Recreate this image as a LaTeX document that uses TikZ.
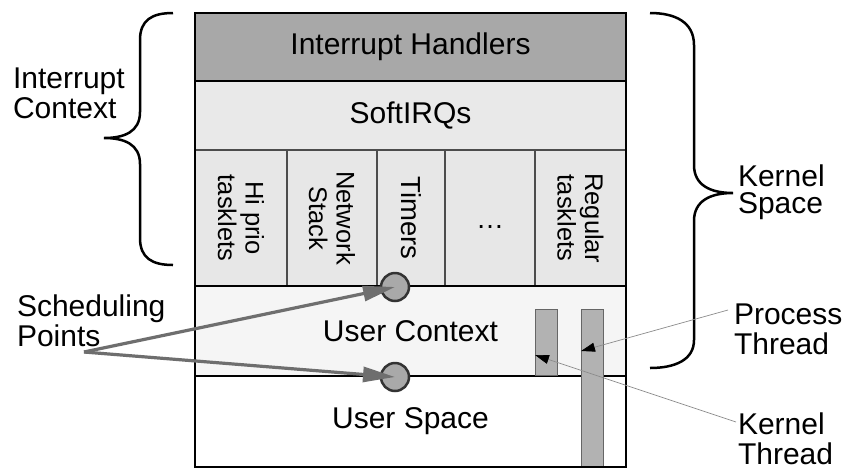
\documentclass[tikz,border=0pt]{standalone}
\usepackage{fontspec}
\setmainfont{Liberation Sans}
\usetikzlibrary{arrows.meta,calc}
\definecolor{ihfill}{HTML}{A8A8A8}
\definecolor{sqfill}{HTML}{E9E9E9}
\definecolor{colfill}{HTML}{E7E7E7}
\definecolor{ucfill}{HTML}{F5F5F5}
\definecolor{barfill}{HTML}{B2B2B2}
\definecolor{dotfill}{HTML}{A9A9A9}
\definecolor{arrgray}{HTML}{6E6E6E}
\begin{document}
\begin{tikzpicture}[x=1pt,y=-1pt,
  every node/.style={inner sep=0pt, outer sep=0pt},
  big/.style={font=\fontsize{30}{30}\selectfont},
  rowbox/.style={rectangle, anchor=north west, minimum width=431pt, big},
  colbox/.style={rectangle, anchor=north west, minimum height=136pt, fill=colfill, draw=black!70, line width=1.2pt},
  coltext/.style={rotate=-90, align=center, font=\fontsize{25.5}{27.5}\selectfont},
  heavy/.style={line width=2.8pt, black},
  bar/.style={rectangle, anchor=north west, minimum width=22pt, fill=barfill, draw=black!60, line width=1pt},
  schedpt/.style={circle, minimum size=28pt, fill=dotfill, draw=black!80, line width=2.5pt},
  lbl/.style={big, align=left, anchor=west},
  brace/.style={line width=2.5pt, black},
  schedarrow/.style={draw=arrgray, line width=3.2pt, -{Triangle[length=32pt,width=15pt]}},
  thinarrow/.style={draw=black!45, line width=0.7pt, -{Triangle[length=14pt,width=9pt,color=black]}}
]
\fill[white] (0,0) rectangle (844,475);
\useasboundingbox (0,0) rectangle (844,475);

% rows
\node[rowbox, fill=ihfill, minimum height=68pt] (ih) at (195,13) {Interrupt Handlers};
\node[rowbox, fill=sqfill, minimum height=69pt] (sq) at (195,81) {SoftIRQs};
\node[rowbox, fill=ucfill, minimum height=90pt] (uc) at (195,286) {User Context};
\node[rowbox, fill=white, minimum height=91pt] (us) at (195,376) {User Space};

% tasklet columns
\node[colbox, minimum width=92pt] (c1) at (195,150) {};
\node[colbox, minimum width=90pt] (c2) at (287,150) {};
\node[colbox, minimum width=68pt] (c3) at (377,150) {};
\node[colbox, minimum width=90pt] (c4) at (445,150) {};
\node[colbox, minimum width=91pt] (c5) at (535,150) {};
\node[coltext] (t1) at (c1.center) {Hi prio\\tasklets};
\node[coltext] (t2) at (c2.center) {Network\\Stack};
\node[coltext, font=\fontsize{27.5}{27.5}\selectfont] (t3) at (c3.center) {Timers};
\node[font=\fontsize{28}{28}\selectfont, anchor=base] (t4) at ($(c4.center)+(0,10)$) {…};
\node[coltext] (t5) at (c5.center) {Regular\\tasklets};

% separators and frame
\draw[heavy] (sq.north west) -- (sq.north east);
\draw[heavy] (uc.north west) -- (uc.north east);
\draw[heavy] (us.north west) -- (us.north east);

% threads
\node[bar, minimum height=66pt] (kt) at (535,309) {};
\node[bar, minimum height=158pt] (pt) at (581,309) {};

\draw[heavy] (ih.north west) rectangle (us.south east);

% scheduling points
\node[schedpt] (sp1) at (395,287) {};
\node[schedpt] (sp2) at (395,377) {};

% labels
\node[lbl] (icl) at (13,93) {Interrupt\\Context};
\node[lbl] (spl) at (17,321) {Scheduling\\Points};
\node[lbl, font=\fontsize{30}{27}\selectfont] (ksl) at (738,192) {Kernel\\Space};
\node[lbl] (ptl) at (734,329) {Process\\Thread};
\node[lbl] (ktl) at (738,439) {Kernel\\Thread};

% braces
\draw[brace] (173,13) .. controls (152,13) and (140,20) .. (140,40) -- (140,112)
  .. controls (140,132) and (124,138) .. (104,138)
  .. controls (124,138) and (140,144) .. (140,164) -- (140,238)
  .. controls (140,258) and (152,265) .. (173,265);
\draw[brace] (650,13) .. controls (675,13) and (694,22) .. (694,45) -- (694,165)
  .. controls (694,185) and (710,193) .. (733,193)
  .. controls (710,193) and (694,201) .. (694,221) -- (694,340)
  .. controls (694,360) and (675,368) .. (650,368);

% connectors
\coordinate (spfrom) at (84,352);
\draw[schedarrow] (spfrom) -- (sp1.center);
\draw[schedarrow] (spfrom) -- (sp2.center);
\coordinate (ptfrom) at (728,310);
\coordinate (ktfrom) at (736,422);
\draw[thinarrow] (ptfrom) -- ($(pt.north west)+(0,42)$);
\draw[thinarrow] (ktfrom) -- ($(kt.north west)+(0,46)$);
\end{tikzpicture}
\end{document}
